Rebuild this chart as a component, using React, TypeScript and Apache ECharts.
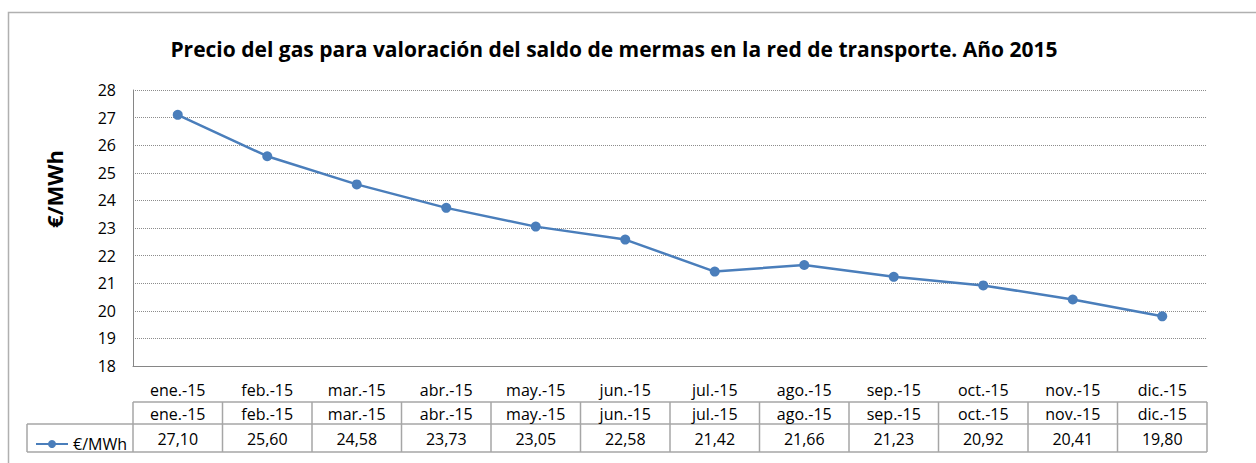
import React, { useEffect, useRef } from "react";
import * as echarts from "echarts";

const TITLE = "Precio del gas para valoración del saldo de mermas en la red de transporte. Año 2015";
const Y_TITLE = "€/MWh";
const SERIES_NAME = "€/MWh";
const categories = ["ene.-15", "feb.-15", "mar.-15", "abr.-15", "may.-15", "jun.-15", "jul.-15", "ago.-15", "sep.-15", "oct.-15", "nov.-15", "dic.-15"];
const values = [27.10, 25.60, 24.58, 23.73, 23.05, 22.58, 21.42, 21.66, 21.23, 20.92, 20.41, 19.80];
const yMin = 18;
const yMax = 28;
const yInterval = 1;

const FONT = "'Open Sans', Lato, sans-serif";
const GRID = { left: 133, top: 90, width: 1074, height: 276 };
const LINE_COLOR = "#4a7ebb";
const BORDER = "#a6a6a6";

export default function App() {
  const ref = useRef<HTMLDivElement>(null);
  useEffect(() => {
    document.body.style.margin = "0";
    document.body.style.overflow = "hidden";
    const chart = echarts.init(ref.current!, null, { renderer: "svg" });
    const right = GRID.left + GRID.width;
    const cw = GRID.width / categories.length;
    const r2Top = 402, r2Bot = 424, r3Bot = 452, legendLeft = 27;
    const tableLines: any[] = [];
    const hl = (x1: number, x2: number, y: number) =>
      tableLines.push({ type: "line", shape: { x1, y1: y, x2, y2: y }, style: { stroke: BORDER, lineWidth: 1.5 }, silent: true });
    const vl = (x: number, y1: number, y2: number) =>
      tableLines.push({ type: "line", shape: { x1: x, y1, x2: x, y2 }, style: { stroke: BORDER, lineWidth: 1.5 }, silent: true });
    hl(GRID.left, right, r2Top);
    hl(legendLeft, right, r2Bot);
    hl(legendLeft, right, r3Bot);
    for (let i = 0; i <= categories.length; i++) {
      vl(GRID.left + i * cw, r2Top, r3Bot);
    }
    vl(legendLeft, r2Bot, r3Bot);

    const fmt = (v: number) => v.toFixed(2).replace(".", ",");
    const labelStyle = { color: "#000", fontSize: 16, fontFamily: FONT };

    chart.setOption({
      animation: false,
      backgroundColor: "#fff",
      textStyle: { fontFamily: FONT },
      grid: { ...GRID },
      legend: {
        left: 30,
        top: 431,
        itemWidth: 32,
        itemHeight: 10,
        itemGap: 5,
        textStyle: { color: "#000", fontSize: 16, fontFamily: FONT },
        data: [SERIES_NAME],
      },
      xAxis: [
        {
          type: "category",
          data: categories,
          position: "bottom",
          boundaryGap: true,
          axisLine: { show: true, lineStyle: { color: "#868686", width: 1 } },
          axisTick: { show: false },
          axisLabel: { ...labelStyle, margin: 16, interval: 0 },
        },
        {
          type: "category",
          data: categories,
          position: "bottom",
          offset: 24,
          axisLine: { show: false },
          axisTick: { show: false },
          axisLabel: { ...labelStyle, margin: 16, interval: 0 },
        },
        {
          type: "category",
          data: categories,
          position: "bottom",
          offset: 49,
          axisLine: { show: false },
          axisTick: { show: false },
          axisLabel: { ...labelStyle, margin: 16, interval: 0, formatter: (_v: string, i: number) => fmt(values[i]) },
        },
      ],
      yAxis: {
        type: "value",
        min: yMin,
        max: yMax,
        interval: yInterval,
        axisLine: { show: true, lineStyle: { color: "#868686", width: 1 } },
        axisTick: { show: false },
        axisLabel: { ...labelStyle, margin: 17 },
        splitLine: { show: true, lineStyle: { color: "#8c8c8c", type: [1, 1], width: 1 } },
      },
      series: [
        {
          name: SERIES_NAME,
          type: "line",
          xAxisIndex: 0,
          data: values,
          symbol: "circle",
          symbolSize: 10,
          lineStyle: { color: LINE_COLOR, width: 2.5 },
          itemStyle: { color: LINE_COLOR },
        },
      ],
      graphic: [
        {
          type: "rect",
          shape: { x: 8.5, y: 12.5, width: 1400, height: 800 },
          style: { fill: "none", stroke: "#b0b0b0", lineWidth: 1.5 },
          silent: true,
          z: -1,
        },
        {
          type: "text",
          x: 614,
          y: 49,
          style: { text: TITLE, fill: "#000", font: `bold 21px ${FONT}`, textAlign: "center", textVerticalAlign: "middle" },
        },
        {
          type: "text",
          x: 54,
          y: 189,
          rotation: Math.PI / 2,
          style: { text: Y_TITLE, fill: "#000", font: `bold 22px ${FONT}`, textAlign: "center", textVerticalAlign: "middle" },
        },
        ...tableLines,
      ],
    });
    return () => chart.dispose();
  }, []);
  return <div ref={ref} style={{ width: 1256, height: 463 }} />;
}
